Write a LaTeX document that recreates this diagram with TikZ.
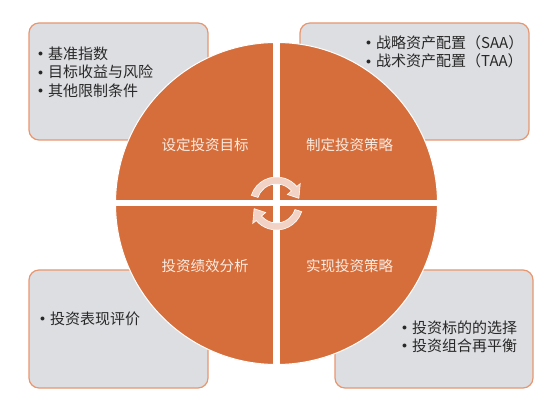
\documentclass[tikz,border=0pt]{standalone}
\usepackage{fontspec}
\setmainfont{Noto Sans CJK SC}
\usepackage{amssymb}
\definecolor{quadorange}{RGB}{214,110,60}
\definecolor{quadtext}{RGB}{250,236,226}
\definecolor{boxgray}{RGB}{221,222,225}
\definecolor{boxedge}{RGB}{232,150,112}
\definecolor{listtext}{RGB}{40,40,40}
\definecolor{cyclefill}{RGB}{242,210,196}
\newcommand{\itm}{\makebox[10pt][l]{\raisebox{2.6pt}{\normalsize$\bullet$}}}
\begin{document}
\begin{tikzpicture}[x=1pt,y=1pt,
  infobox/.style={draw=boxedge, line width=1.2pt, fill=boxgray, rounded corners=10pt, inner sep=0pt},
  quadlabel/.style={text=quadtext, font=\fontsize{14.5}{17}\selectfont},
  itemlist/.style={text=listtext, inner sep=0pt, align=left, anchor=north west, font=\fontsize{15}{18.5}\selectfont},
  cyclearrow/.style={fill=cyclefill, draw=white, line width=0.6pt}]
\useasboundingbox (0,0) rectangle (554,-411);
% boxes behind the circle
\node [infobox, minimum width=179, minimum height=117] (goalbox) at (118.5,-81.5) {};
\node [infobox, minimum width=229, minimum height=117] (stratbox) at (414.5,-81.5) {};
\node [infobox, minimum width=179, minimum height=118] (evalbox) at (118.5,-329) {};
\node [infobox, minimum width=198, minimum height=118] (implbox) at (434,-329) {};
% circle split in four
\coordinate (c) at (276.5,-203.5);
\fill [quadorange] (c) circle (161);
\draw [white, line width=1pt] (c) circle (161);
\draw [white, line width=7pt] ([yshift=165]c) -- ([yshift=-165]c);
\draw [white, line width=6pt] ([xshift=-165]c) -- ([xshift=165]c);
% cycle arrows
\foreach \r in {0,180}
  \filldraw [cyclearrow, shift={(c)}, rotate=\r] (162:26.5) arc (162:40:26.5) -- (40:31) -- (13:23) -- (40:14) -- (40:19.5) arc (40:162:19.5) -- cycle;
\node [quadlabel] (goal) at (205,-145) {设定投资目标};
\node [quadlabel] (strat) at (349.5,-145) {制定投资策略};
\node [quadlabel] (eval) at (205,-266) {投资绩效分析};
\node [quadlabel] (impl) at (349.5,-266) {实现投资策略};
\node [itemlist] (goallist) at (38,-46.3) {\itm 基准指数\\ \itm 目标收益与风险\\ \itm 其他限制条件};
\node [itemlist] (stratlist) at (366,-35.3) {\itm 战略资产配置（SAA）\\ \itm 战术资产配置（TAA）};
\node [itemlist] (evallist) at (40,-311.3) {\itm 投资表现评价};
\node [itemlist, font=\fontsize{15}{18}\selectfont] (impllist) at (402,-320.3) {\itm 投资标的的选择\\ \itm 投资组合再平衡};
\end{tikzpicture}
\end{document}
